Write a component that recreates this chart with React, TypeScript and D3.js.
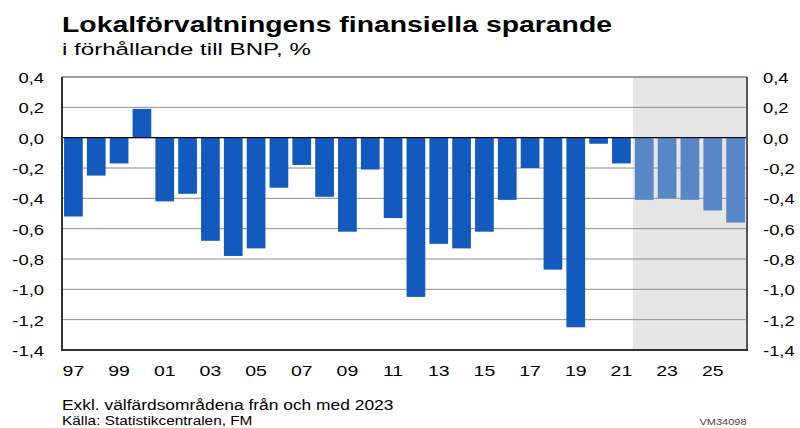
import React from "react";
import * as d3 from "d3";

const years = ["97","98","99","00","01","02","03","04","05","06","07","08","09","10","11","12","13","14","15","16","17","18","19","20","21","22","23","24","25","26"];
const values = [-0.52,-0.25,-0.17,0.19,-0.42,-0.37,-0.68,-0.78,-0.73,-0.33,-0.18,-0.39,-0.62,-0.21,-0.53,-1.05,-0.70,-0.73,-0.62,-0.41,-0.20,-0.87,-1.25,-0.04,-0.17,-0.41,-0.40,-0.41,-0.48,-0.56];
const forecastFrom = "22";
const yTicks = [0.4,0.2,0,-0.2,-0.4,-0.6,-0.8,-1.0,-1.2,-1.4];
const xLabels = ["97","99","01","03","05","07","09","11","13","15","17","19","21","23","25"];
const title = "Lokalförvaltningens finansiella sparande";
const subtitle = "i förhållande till BNP, %";
const note = "Exkl. välfärdsområdena från och med 2023";
const source = "Källa: Statistikcentralen, FM";
const code = "VM34098";

function T(props: { x: number; y: number; sx: number; size: number; anchor?: string; weight?: string; fill?: string; children: React.ReactNode }) {
  const { x, y, sx, size, anchor = "start", weight = "normal", fill = "#000", children } = props;
  return (
    <text transform={`translate(${x},${y}) scale(${sx},1)`} fontSize={size} fontWeight={weight} textAnchor={anchor as any} fill={fill}>{children}</text>
  );
}

export default function App() {
  const W = 800, H = 428;
  const L = 62, R = 747, Tp = 77, B = 350;
  const x = d3.scaleBand().domain(years).range([L, R]).paddingInner(0.18).paddingOuter(0.09);
  const y = d3.scaleLinear().domain([-1.4, 0.4]).range([B, Tp]);
  const fmt = (v: number) => d3.format(".1f")(v).replace(".", ",").replace("−", "-");
  const fIdx = years.indexOf(forecastFrom);
  const shadeX = L + (R - L) * fIdx / years.length;
  const font = "Liberation Sans, Arial, sans-serif";
  return (
    <svg width={W} height={H} style={{ position: "absolute", left: 0, top: 0, background: "#fff" }} fontFamily={font}>
      <rect x={0} y={0} width={W} height={H} fill="#fff" />
      <T x={62} y={32} sx={1.32} size={21.5} weight="bold">{title}</T>
      <T x={62} y={55} sx={1.42} size={17}>{subtitle}</T>
      <rect x={shadeX} y={Tp} width={R - shadeX} height={B - Tp} fill="#e6e6e6" />
      {yTicks.map(t => (
        <line key={"g" + t} x1={L} x2={R} y1={y(t)} y2={y(t)} stroke={t === 0 ? "#000" : "#8c8c8c"} strokeWidth={1} />
      ))}
      {years.map((yr, i) => {
        const v = values[i];
        const y0 = y(0), y1 = y(v);
        return (
          <rect key={yr} x={x(yr)} y={Math.min(y0, y1)} width={x.bandwidth()} height={Math.abs(y1 - y0)}
            fill={i >= fIdx ? "#5787c6" : "#135abf"} />
        );
      })}
      <line x1={L} x2={R} y1={y(0)} y2={y(0)} stroke="#000" strokeWidth={1} />
      <line x1={L} x2={R} y1={Tp} y2={Tp} stroke="#777" strokeWidth={1} />
      <line x1={L} x2={L} y1={Tp} y2={B} stroke="#333" strokeWidth={2} />
      <line x1={R} x2={R} y1={Tp} y2={B} stroke="#555" strokeWidth={2} />
      <line x1={L - 1} x2={R + 1} y1={B} y2={B} stroke="#333" strokeWidth={2} />
      {yTicks.map(t => (
        <g key={"t" + t}>
          <T x={44} y={y(t) + 6} sx={1.27} size={14.5} anchor="end">{fmt(t)}</T>
          <T x={763} y={y(t) + 6} sx={1.27} size={14.5}>{fmt(t)}</T>
        </g>
      ))}
      {xLabels.map(l => (
        <T key={"x" + l} x={(x(l) as number) + x.bandwidth() / 2} y={376} sx={1.3} size={15} anchor="middle">{l}</T>
      ))}
      <T x={62} y={410} sx={1.2} size={14.5}>{note}</T>
      <T x={62} y={425} sx={1.23} size={12.5}>{source}</T>
      <T x={723} y={425} sx={1.3} size={8.5} anchor="middle" fill="#445">{code}</T>
    </svg>
  );
}
